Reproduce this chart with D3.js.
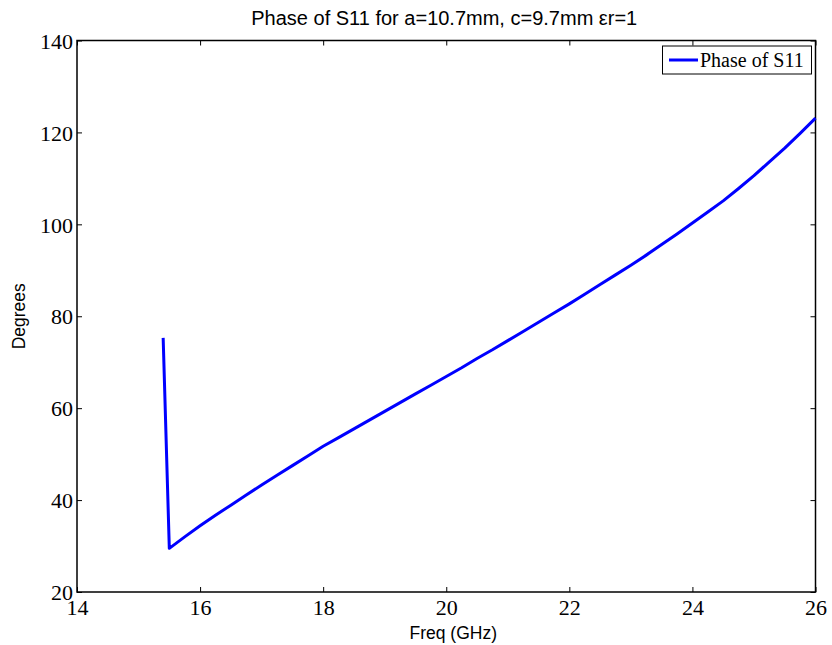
<!DOCTYPE html>
<html>
  <body>
    <script src="https://d3js.org/d3.v7.min.js" charset="utf-8"></script>
    <style>
      body{ margin: 0; background: #fff;}
      .tick text{ font-family: "Liberation Serif", serif; font-size: 22px; fill: #000;}
      .lbl{ font-family: "Liberation Sans", Arial, sans-serif; font-size: 17.5px; fill: #000;}
    </style>
    <script>
var freq = [15.4, 15.5, 15.75, 16.0, 16.25, 16.5, 16.75, 17.0, 17.25, 17.5, 17.75,
  18.0, 18.25, 18.5, 18.75, 19.0, 19.25, 19.5, 19.75, 20.0, 20.25, 20.5, 20.75,
  21.0, 21.25, 21.5, 21.75, 22.0, 22.25, 22.5, 22.75, 23.0, 23.25, 23.5, 23.75,
  24.0, 24.25, 24.5, 24.75, 25.0, 25.25, 25.5, 25.75, 26.0]
  , phase = [75.3, 29.5, 32.0, 34.4, 36.7, 38.9, 41.1, 43.3, 45.4, 47.5, 49.6,
  51.7, 53.6, 55.5, 57.4, 59.3, 61.2, 63.1, 65.0, 66.9, 68.8, 70.8, 72.7,
  74.7, 76.7, 78.7, 80.7, 82.7, 84.8, 86.9, 89.0, 91.1, 93.3, 95.6, 97.9,
  100.3, 102.7, 105.1, 107.8, 110.6, 113.6, 116.6, 119.8, 123.1]
  , xTicks = [14, 16, 18, 20, 22, 24, 26]
  , yTicks = [20, 40, 60, 80, 100, 120, 140]
  , seriesName = 'Phase of S11'
  , title = 'Phase of S11 for a=10.7mm, c=9.7mm \u03b5r=1'

var W = 832, H = 645
  , pLeft = 77, pRight = 815.5, pTop = 40.5, pBottom = 592

var svg = d3.select('body').append('svg').attr('width', W).attr('height', H)

var x = d3.scaleLinear().domain([14, 26]).range([pLeft, pRight])
var y = d3.scaleLinear().domain([20, 140]).range([pBottom, pTop])

function styleAxis(g){
  g.select('.domain').remove()
  g.selectAll('.tick line').attr('stroke', '#000').attr('stroke-width', 1)
}

var xAxisG = svg.append('g').attr('transform', 'translate(0,' + pBottom + ')')
  .call(d3.axisBottom(x).tickValues(xTicks).tickSize(-5).tickPadding(8))
  .call(styleAxis)
xAxisG.selectAll('.tick text').attr('y', 7).attr('dy', '0.71em')
svg.append('g').attr('transform', 'translate(0,' + pTop + ')')
  .call(d3.axisTop(x).tickValues(xTicks).tickSize(-5).tickFormat(''))
  .call(styleAxis)
var yAxisG = svg.append('g').attr('transform', 'translate(' + pLeft + ',0)')
  .call(d3.axisLeft(y).tickValues(yTicks).tickSize(-5).tickPadding(5))
  .call(styleAxis)
yAxisG.selectAll('.tick text').attr('x', -4).attr('dy', '0.35em')
svg.append('g').attr('transform', 'translate(' + pRight + ',0)')
  .call(d3.axisRight(y).tickValues(yTicks).tickSize(-5).tickFormat(''))
  .call(styleAxis)

// box
svg.append('rect')
  .attr('x', pLeft).attr('y', pTop)
  .attr('width', pRight - pLeft).attr('height', pBottom - pTop)
  .attr('fill', 'none').attr('stroke', '#000').attr('stroke-width', 1.5)

// line
var line = d3.line()
  .x(function(d, i){ return x(freq[i]) })
  .y(function(d){ return y(d) })
svg.append('path').datum(phase)
  .attr('d', line)
  .attr('fill', 'none').attr('stroke', '#0000ff').attr('stroke-width', 3)
  .attr('stroke-linejoin', 'round')

// labels
svg.append('text').attr('class', 'lbl')
  .attr('x', (pLeft + pRight) / 2 - 2).attr('y', 25)
  .attr('text-anchor', 'middle').style('font-size', '20px')
  .text(title)
svg.append('text').attr('class', 'lbl')
  .attr('x', (pLeft + pRight) / 2 + 7).attr('y', 639)
  .attr('text-anchor', 'middle')
  .text('Freq (GHz)')
svg.append('text').attr('class', 'lbl')
  .attr('transform', 'translate(25,' + ((pTop + pBottom) / 2) + ') rotate(-90)')
  .attr('text-anchor', 'middle')
  .text('Degrees')

// legend
var lg = svg.append('g')
lg.append('rect').attr('x', 662.5).attr('y', 46).attr('width', 149).attr('height', 28)
  .attr('fill', '#fff').attr('stroke', '#000').attr('stroke-width', 1)
lg.append('line').attr('x1', 669).attr('x2', 698).attr('y1', 60).attr('y2', 60)
  .attr('stroke', '#0000ff').attr('stroke-width', 3)
lg.append('text').attr('x', 700).attr('y', 67)
  .style('font-family', '"Liberation Serif", serif').style('font-size', '20px')
  .text(seriesName)
    </script>
  </body>
</html>
